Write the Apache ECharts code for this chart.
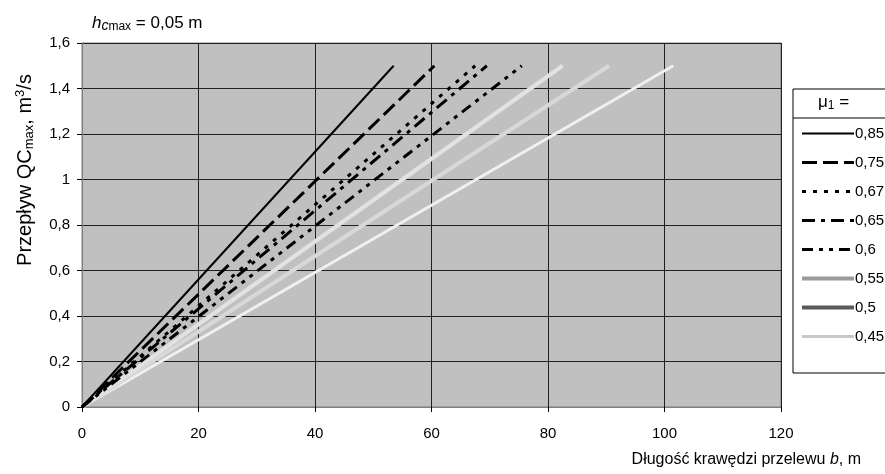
<!DOCTYPE html>
<html>
<head>
<meta charset="utf-8">
<script src="https://cdn.jsdelivr.net/npm/echarts@6/dist/echarts.min.js"></script>
<style>
html,body{margin:0;padding:0;background:#fff;}
#chart{width:885px;height:474px;}
</style>
</head>
<body>
<div id="chart"></div>
<script>
// mu_1 values and where each line ends (b, m) at Q = 1,5 m3/s
var muNames = ['0,85', '0,75', '0,67', '0,65', '0,6', '0,55', '0,5', '0,45'];
var bEnd = [53.5, 60.5, 67.5, 69.5, 75.5, 82.5, 90.5, 101.5];
var qEnd = [1.5, 1.5, 1.5, 1.5, 1.5, 1.5, 1.5, 1.5];
var xTicks = [0, 20, 40, 60, 80, 100, 120];
var yTicks = [0, 0.2, 0.4, 0.6, 0.8, 1, 1.2, 1.4, 1.6];

// line looks: plot colour, legend colour, width, dash
var lineColor = ['#000', '#000', '#000', '#000', '#000', '#e2e2e2', '#d8d8d8', '#f0f0f0'];
var legColor = ['#000', '#000', '#000', '#000', '#000', '#9a9a9a', '#5a5a5a', '#c8c8c8'];
var lineWidth = [2, 3, 3, 3, 3, 4, 4, 3];
var lineDash = ['solid', [15, 6], [4, 7], [13, 6, 4, 6], [11, 6, 4, 6, 4, 6], 'solid', 'solid', 'solid'];

var myChart = echarts.init(document.getElementById('chart'));
var font = 'Liberation Sans, Arial, sans-serif';

var series = [];
var legendData = [];
for (var i = 0; i < muNames.length; i++) {
	series.push({
		name: muNames[i],
		type: 'line',
		symbol: 'none',
		animation: false,
		z: 10 - i,
		lineStyle: { color: lineColor[i], width: lineWidth[i], type: lineDash[i], cap: 'butt' },
		itemStyle: { color: lineColor[i] },
		data: [[0, 0], [bEnd[i], qEnd[i]]]
	});
	legendData.push({
		name: muNames[i],
		itemStyle: { color: 'rgba(0,0,0,0)', borderWidth: 0, opacity: 0 },
		lineStyle: { color: legColor[i], width: lineWidth[i], type: lineDash[i] }
	});
}

var option = {
	animation: false,
	textStyle: { fontFamily: font },
	grid: {
		left: 82, right: 104, top: 43, bottom: 67,
		show: true,
		backgroundColor: '#c0c0c0',
		borderColor: '#808080',
		borderWidth: 1
	},
	title: {
		text: '{hi|h}{ci|c}{sub|max}{n| = 0,05 m}',
		left: 87,
		top: 8,
		textStyle: {
			fontWeight: 'normal',
			rich: {
				hi: { fontFamily: font, fontSize: 17, fontStyle: 'italic', fontWeight: 'normal', color: '#000' },
				ci: { fontFamily: font, fontSize: 14, fontStyle: 'italic', fontWeight: 'normal', color: '#000', verticalAlign: 'bottom', padding: [6, 0, 0, 0] },
				sub: { fontFamily: font, fontSize: 12, fontWeight: 'normal', color: '#000', verticalAlign: 'bottom', padding: [6, 0, 0, 0] },
				n: { fontFamily: font, fontSize: 17, fontWeight: 'normal', color: '#000' }
			}
		}
	},
	legend: {
		orient: 'vertical',
		left: 800,
		top: 126,
		padding: 0,
		itemWidth: 52,
		itemHeight: 14,
		itemGap: 14,
		selectedMode: false,
		textStyle: { fontFamily: font, fontSize: 15, color: '#000', padding: [0, 0, 0, -4] },
		data: legendData
	},
	xAxis: {
		type: 'value',
		min: 0, max: 120, interval: 20,
		name: '{n|Długość krawędzi przelewu }{i|b}{n|, m}',
		nameLocation: 'end',
		nameGap: 0,
		nameTextStyle: {
			align: 'right',
			verticalAlign: 'top',
			padding: [45, -80, 0, 0],
			rich: {
				n: { fontFamily: font, fontSize: 16, color: '#000' },
				i: { fontFamily: font, fontSize: 16, color: '#000', fontStyle: 'italic' }
			}
		},
		axisLine: { show: true, lineStyle: { color: '#808080', width: 1 } },
		axisTick: { show: true, length: 5, lineStyle: { color: '#000' } },
		axisLabel: { color: '#000', fontSize: 15, margin: 19, fontFamily: font },
		splitLine: { show: true, lineStyle: { color: '#202020', width: 1 } }
	},
	yAxis: {
		type: 'value',
		min: 0, max: 1.6, interval: 0.2,
		name: '{n|Przepływ QC}{sub|max}{n|, m}{sup|3}{n|/s}',
		nameLocation: 'middle',
		nameGap: 46,
		nameRotate: 90,
		nameTextStyle: {
			padding: [0, 0, 0, 110],
			rich: {
				n: { fontFamily: font, fontSize: 20, color: '#000' },
				sub: { fontFamily: font, fontSize: 13, color: '#000', verticalAlign: 'bottom', padding: [9, 0, 0, 0] },
				sup: { fontFamily: font, fontSize: 13, color: '#000', verticalAlign: 'top', padding: [0, 0, 9, 0] }
			}
		},
		axisLine: { show: true, lineStyle: { color: '#808080', width: 1 } },
		axisTick: { show: true, length: 5, lineStyle: { color: '#000' } },
		axisLabel: {
			color: '#000', fontSize: 15, margin: 12, fontFamily: font,
			formatter: function (v) { return String(Math.round(v * 10) / 10).replace('.', ','); }
		},
		splitLine: { show: true, lineStyle: { color: '#202020', width: 1 } }
	},
	graphic: [
		{ type: 'rect', z: 0, shape: { x: 793, y: 89, width: 120, height: 284 }, style: { fill: '#fff', stroke: '#000', lineWidth: 1 } },
		{ type: 'line', z: 1, shape: { x1: 793, y1: 118, x2: 885, y2: 118 }, style: { stroke: '#000', lineWidth: 1 } },
		{
			type: 'text', z: 2, left: 818, top: 94,
			style: {
				text: '{m|μ}{s|1}{m| =}',
				rich: {
					m: { fontFamily: font, fontSize: 17, fill: '#000' },
					s: { fontFamily: font, fontSize: 12, fill: '#000', verticalAlign: 'bottom', padding: [6, 0, 0, 0] }
				}
			}
		}
	],
	series: series
};
myChart.setOption(option);
</script>
</body>
</html>
